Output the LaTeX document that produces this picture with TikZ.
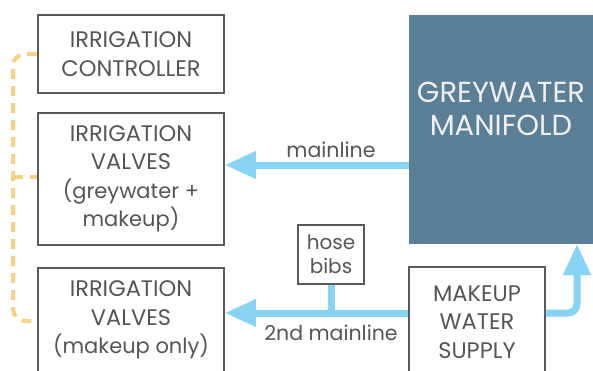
\documentclass[tikz,border=0pt]{standalone}
\usepackage{fontspec}
\setmainfont{Poppins}
\usetikzlibrary{arrows.meta}
\definecolor{boxgray}{HTML}{5A5A5A}
\definecolor{txtgray}{HTML}{555555}
\definecolor{manif}{HTML}{5A7F97}
\definecolor{pipe}{HTML}{86D3F3}
\definecolor{ctrl}{HTML}{F9D183}
\newcommand{\lc}[1]{{\fontsize{21}{28.5}\selectfont #1}}
\begin{document}
\begin{tikzpicture}[x=1pt,y=-1pt,
  box/.style={draw=boxgray, line width=1.8pt, align=center, text=txtgray,
    font=\fontsize{22.5}{28.5}\selectfont, inner sep=0pt},
  smallbox/.style={box, font=\fontsize{20}{24}\selectfont},
  manifbox/.style={fill=manif, draw=none, inner sep=0pt},
  maniftext/.style={text=white!94!black, align=center, font=\fontsize{29}{33}\selectfont, inner sep=0pt},
  pipeline/.style={draw=pipe, line width=7pt},
  pipearrow/.style={pipeline, -{Triangle[width=26pt,length=31pt]}},
  ctrlline/.style={draw=ctrl, line width=4pt, dash pattern=on 10pt off 7pt, rounded corners=12pt},
  lbl/.style={text=txtgray, font=\fontsize{20.5}{24}\selectfont, inner sep=0pt}]
\useasboundingbox (0,0) rectangle (593,370);
\clip (0,0) rectangle (593,370);
% boxes
\node[box, minimum width=186pt, minimum height=78pt] (controller) at (131,54) {IRRIGATION\\CONTROLLER};
\node[box, minimum width=186pt, minimum height=132pt] (valvesA) at (131,179) {IRRIGATION\\VALVES\\\lc{(greywater +}\\\lc{makeup)}};
\node[box, minimum width=186pt, minimum height=104pt] (valvesB) at (131,320) {IRRIGATION\\VALVES\\\lc{(makeup only)}};
\node[manifbox, minimum width=191pt, minimum height=229pt] (manifold) at (504.5,129.5) {};
\node[maniftext] (manifoldlabel) at (501,109) {GREYWATER\\MANIFOLD};
\node[smallbox, minimum width=66pt, minimum height=59pt] (hose) at (331,254.5) {hose\\bibs};
\node[box, minimum width=136pt, minimum height=110pt] (makeup) at (477,322) {MAKEUP\\WATER\\SUPPLY};
% pipes
\coordinate (mA) at (manifold.west |- 0,165);
\coordinate (vA) at (valvesA.east |- 0,165);
\coordinate (mkW) at (makeup.west |- 0,313);
\coordinate (vB) at (valvesB.east |- 0,313);
\coordinate (tee) at (hose.south |- 0,313);
\coordinate (mkE) at (makeup.east |- 0,313);
\coordinate (bend) at (577,313);
\coordinate (mB) at (577,244);
\draw[pipearrow] (mA) -- (vA);
\draw[pipearrow] (mkW) -- (vB);
\draw[pipeline] (hose.south) -- (tee);
\draw[pipearrow, rounded corners=9pt] (mkE) -- (bend) -- (mB);
% control wiring
\coordinate (c1) at (controller.west |- 0,54);
\coordinate (c2) at (valvesA.west |- 0,177);
\coordinate (c3) at (valvesB.west |- 0,321);
\draw[ctrlline] (c1) -- (13,54) -- (13,321) -- (c3);
\draw[ctrlline] (13,177) -- (c2);
% labels
\node[lbl] (lblmain) at (331,150) {mainline};
\node[lbl] (lbl2nd) at (331,333) {2nd mainline};
\end{tikzpicture}
\end{document}
